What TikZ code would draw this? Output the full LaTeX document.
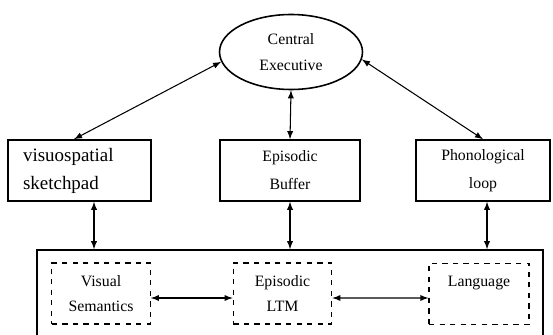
\documentclass[tikz,border=0pt]{standalone}
\usepackage{fontspec}
\setmainfont{Liberation Serif}
\usepackage{tikz}
\usetikzlibrary{shapes.geometric,calc}

\begin{document}
\begin{tikzpicture}[x=0.02cm,y=-0.02cm]
\tikzstyle{every node}+=[inner sep=0pt,font=\fontsize{9}{14.5}\selectfont,align=center]
\tikzstyle{store}=[draw,line width=0.9pt,minimum height=1.22cm,font=\fontsize{9}{16}\selectfont]
\tikzstyle{part}=[draw,dashed,line width=0.7pt,minimum height=1.22cm,minimum width=1.97cm]
\tikzstyle{link}=[<->,>=latex,line width=0.6pt]
\useasboundingbox (0,0) rectangle (553,334);
\clip (0,0) rectangle (553,334);
\node [draw,ellipse,line width=0.9pt,minimum width=2.86cm,minimum height=1.5cm] (ce) at (291,52) {Central\\Executive};
\node [store,text width=2.26cm,inner xsep=0.3cm,align=left,font=\fontsize{10.8}{16}\selectfont] (vs) at (79.5,170.5) {visuospatial\\sketchpad};
\node [store,minimum width=2.8cm] (eb) at (290,170.5) {Episodic\\Buffer};
\node [store,minimum width=2.68cm] (pl) at (483,170.5) {Phonological\\loop};
\node [draw,line width=0.9pt,minimum width=10.12cm,minimum height=2.4cm] (ltm) at (290,310) {};
\node [part] (vsem) at (101,293.5) {Visual\\Semantics};
\node [part] (eltm) at (282.5,293.5) {Episodic\\LTM};
\node [part,minimum width=2cm] (lang) at (479,294) {Language\\\phantom{L}};
\draw [link] (vs.100) -- (ce.188);
\draw [link] (pl.north) -- (ce.-6);
\draw [link] (ce.south) -- (eb.north);
\draw [link] ($(vs.south)+(14.5,0)$) coordinate (a) -- (a |- ltm.north);
\draw [link] (eb.south) -- (eb.south |- ltm.north);
\draw [link] ($(pl.south)+(4,0)$) coordinate (b) -- (b |- ltm.north);
\draw [link] ($(vsem.east)+(0,4.5)$) -- ($(eltm.west)+(0,4.5)$);
\draw [link] ($(eltm.east)+(0,4.5)$) -- ($(lang.west)+(0,4)$);
\end{tikzpicture}
\end{document}
